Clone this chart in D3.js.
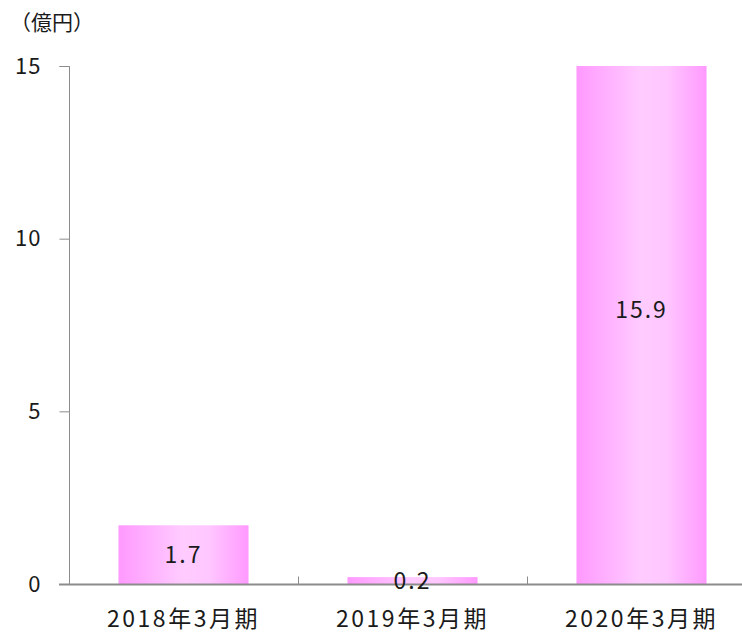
<!DOCTYPE html>
<html><head><meta charset="utf-8">
<script src="https://cdn.jsdelivr.net/npm/d3@7"></script>
<style>body{margin:0;background:#fff;} svg{display:block;} text{font-family:"Noto Sans CJK JP","Noto Sans",sans-serif;fill:#1a1a1a;}</style>
</head><body>
<svg id="c" width="742" height="636"></svg>
<script>
const categories = ["2018年3月期","2019年3月期","2020年3月期"];
const values = [1.7, 0.2, 15.9];
const yTicks = [0, 5, 10, 15];
const unitLabel = "（億円）";

const svg = d3.select("#c");
const x = d3.scaleBand().domain(categories).range([69, 756]).paddingInner(0.432).paddingOuter(0.216);
const y = d3.scaleLinear().domain([0, 15]).range([584, 66]);

const defs = svg.append("defs");
const g = defs.append("linearGradient").attr("id","pk").attr("x1","0").attr("x2","1").attr("y1","0").attr("y2","0");
g.append("stop").attr("offset","0").attr("stop-color","#ff99ff");
g.append("stop").attr("offset","0.5").attr("stop-color","#ffccff");
g.append("stop").attr("offset","0.7").attr("stop-color","#ffc6ff");
g.append("stop").attr("offset","1").attr("stop-color","#ff99ff");

// bars
svg.selectAll("rect.bar").data(values).join("rect").attr("class","bar")
  .attr("x",(d,i)=>x(categories[i])).attr("width",x.bandwidth())
  .attr("y",d=>y(Math.min(d,15))).attr("height",d=>y(0)-y(Math.min(d,15)))
  .attr("fill","url(#pk)");

// y axis
const ya = svg.append("g").attr("transform","translate(69.5,0)")
  .call(d3.axisLeft(y).tickValues(yTicks).tickSize(10).tickPadding(18).tickFormat(d3.format("d")));
ya.select(".domain").attr("stroke","#8c8c8c").attr("d","M-10,66.5H0V584.5");
ya.selectAll(".tick line").attr("stroke","#8c8c8c");
ya.selectAll(".tick text").style("font-size","22px").style("letter-spacing","1px").attr("fill","#1a1a1a");
ya.selectAll(".tick").filter(d=>d===0).select("line").remove();

// x axis
const xa = svg.append("g").attr("transform","translate(0,584.5)");
xa.append("line").attr("x1",59).attr("x2",756).attr("stroke","#8c8c8c").attr("stroke-width",2);
const bounds = [categories[1], categories[2]].map(c=>x(c)-x.step()*x.paddingInner()/2);
xa.selectAll("line.t").data(bounds).join("line").attr("class","t")
  .attr("x1",d=>Math.round(d)+0.5).attr("x2",d=>Math.round(d)+0.5).attr("y1",0).attr("y2",-8).attr("stroke","#8c8c8c");
xa.selectAll("text").data(categories).join("text")
  .attr("x",d=>x(d)+x.bandwidth()/2).attr("y",42).attr("text-anchor","middle")
  .style("font-size","23px").style("letter-spacing","2.5px").text(d=>d);

// value labels
svg.selectAll("text.val").data(values).join("text").attr("class","val")
  .attr("x",(d,i)=>x(categories[i])+x.bandwidth()/2)
  .attr("y",d=>(y(d)+y(0))/2).attr("dy","0.36em").attr("text-anchor","middle")
  .style("font-size","23px").style("letter-spacing","2px").text(d=>d.toFixed(1));

svg.append("text").attr("x",10).attr("y",30).style("font-size","21px").text(unitLabel);
</script>
</body></html>
